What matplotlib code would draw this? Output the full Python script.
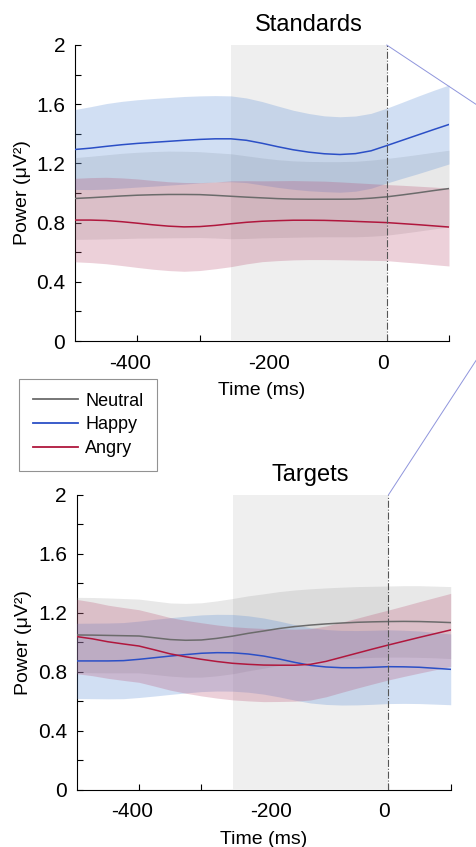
import numpy as np
import matplotlib
matplotlib.use("Agg")
import matplotlib.pyplot as plt
import matplotlib.transforms as mtransforms
from matplotlib.patches import ConnectionPatch

plt.rcParams['font.family'] = ['Liberation Sans', 'DejaVu Sans']
plt.rcParams['axes.unicode_minus'] = False

# time axis (ms), relative to stimulus onset
time_ms = [-500, -475, -450, -425, -400, -375, -350, -325, -300, -275, -250, -225, -200,
           -175, -150, -125, -100, -75, -50, -25, 0, 25, 50, 75, 100]

conditions = ['Neutral', 'Happy', 'Angry']

# Standards: mean power and its error band (uV^2)
neutral_std = [0.963, 0.968, 0.974, 0.980, 0.985, 0.988, 0.990, 0.990, 0.989, 0.984, 0.978, 0.972, 0.967,
               0.962, 0.959, 0.958, 0.958, 0.958, 0.959, 0.965, 0.974, 0.987, 1.001, 1.016, 1.030]
neutral_std_err = [0.276, 0.280, 0.284, 0.288, 0.290, 0.292, 0.293, 0.292, 0.290, 0.288, 0.287, 0.279, 0.270,
                   0.263, 0.258, 0.255, 0.254, 0.254, 0.255, 0.257, 0.259, 0.259, 0.259, 0.259, 0.259]
happy_std = [1.294, 1.303, 1.315, 1.326, 1.335, 1.342, 1.349, 1.356, 1.362, 1.366, 1.366, 1.356, 1.336,
             1.313, 1.292, 1.276, 1.265, 1.260, 1.266, 1.285, 1.320, 1.356, 1.392, 1.428, 1.463]
happy_std_err = [0.270, 0.280, 0.289, 0.293, 0.295, 0.296, 0.296, 0.296, 0.294, 0.292, 0.290, 0.286, 0.282,
                 0.275, 0.267, 0.261, 0.256, 0.255, 0.254, 0.253, 0.253, 0.257, 0.262, 0.265, 0.267]
angry_std = [0.817, 0.817, 0.814, 0.806, 0.796, 0.785, 0.776, 0.771, 0.773, 0.781, 0.792, 0.802, 0.809,
             0.813, 0.816, 0.816, 0.815, 0.812, 0.808, 0.804, 0.800, 0.793, 0.786, 0.778, 0.770]
angry_std_err = [0.282, 0.287, 0.292, 0.296, 0.299, 0.300, 0.300, 0.300, 0.297, 0.293, 0.290, 0.281, 0.273,
                 0.270, 0.268, 0.266, 0.265, 0.263, 0.261, 0.259, 0.257, 0.259, 0.260, 0.262, 0.263]

# Targets
neutral_tgt = [1.051, 1.050, 1.048, 1.046, 1.044, 1.032, 1.020, 1.015, 1.017, 1.028, 1.043, 1.062, 1.078,
               1.095, 1.108, 1.118, 1.126, 1.132, 1.137, 1.140, 1.142, 1.143, 1.142, 1.139, 1.135]
neutral_tgt_err = [0.255, 0.255, 0.254, 0.252, 0.250, 0.249, 0.248, 0.250, 0.252, 0.254, 0.255, 0.254, 0.252,
                   0.250, 0.248, 0.246, 0.244, 0.243, 0.242, 0.241, 0.241, 0.242, 0.243, 0.243, 0.244]
happy_tgt = [0.875, 0.875, 0.875, 0.877, 0.886, 0.897, 0.908, 0.918, 0.927, 0.931, 0.930, 0.922, 0.908,
             0.888, 0.865, 0.845, 0.834, 0.829, 0.829, 0.832, 0.836, 0.835, 0.832, 0.825, 0.818]
happy_tgt_err = [0.255, 0.256, 0.257, 0.258, 0.259, 0.260, 0.260, 0.260, 0.260, 0.260, 0.260, 0.259, 0.258,
                 0.257, 0.256, 0.255, 0.254, 0.253, 0.252, 0.251, 0.250, 0.248, 0.246, 0.243, 0.240]
angry_tgt = [1.040, 1.025, 1.005, 0.990, 0.976, 0.950, 0.923, 0.903, 0.886, 0.871, 0.859, 0.852, 0.847,
             0.846, 0.846, 0.852, 0.872, 0.900, 0.928, 0.956, 0.983, 1.009, 1.035, 1.060, 1.085]
angry_tgt_err = [0.252, 0.250, 0.248, 0.247, 0.246, 0.246, 0.246, 0.247, 0.248, 0.248, 0.248, 0.248, 0.248,
                 0.246, 0.244, 0.242, 0.240, 0.238, 0.237, 0.237, 0.237, 0.239, 0.242, 0.245, 0.248]

window = [-250, 0]          # shaded pre-stimulus window
yticks = [0, 0.4, 0.8, 1.2, 1.6, 2]
ytick_labels = ['0', '0.4', '0.8', '1.2', '1.6', '2']
xticks = [-400, -200, 0]
xlabel_shift_px = [-7, 7, -4]   # the original's x tick labels sit a bit off their ticks

line_colors = {'Neutral': '#6b6b6b', 'Happy': '#2b4fc6', 'Angry': '#b0173d'}
band_colors = {'Neutral': '#8c8c8c', 'Happy': '#5d8fd6', 'Angry': '#b5456a'}
band_alpha = {'Neutral': 0.2, 'Happy': 0.28, 'Angry': 0.25}


def draw_panel(ax, means, errs, title):
    ax.axvspan(window[0], window[1], color='#efefef', lw=0, zorder=0.7)
    for name, m, e in zip(conditions, means, errs):
        m = np.array(m)
        e = np.array(e)
        ax.fill_between(time_ms, m - e, m + e, color=band_colors[name],
                        alpha=band_alpha[name], lw=0, zorder=1)
    for name, m in zip(conditions, means):
        ax.plot(time_ms, m, color=line_colors[name], lw=1.1, label=name, zorder=2)
    ax.axvline(0, color='#555555', lw=0.8, ls='-.', zorder=2.2)

    ax.set_xlim(time_ms[0], time_ms[-1])
    ax.set_ylim(0, 2)
    ax.set_xticks(xticks)
    ax.set_xticks([-300, -100, 100], minor=True)
    ax.set_yticks(yticks)
    ax.set_yticklabels(ytick_labels)
    ax.set_yticks([0.2, 0.6, 1.0, 1.4, 1.8], minor=True)
    ax.tick_params(which='both', direction='in', length=4, width=0.8, labelsize=15)
    ax.tick_params(axis='x', which='both', pad=9)
    ax.tick_params(axis='y', which='both', pad=7)
    for lab, dx in zip(ax.get_xticklabels(), xlabel_shift_px):
        lab.set_transform(lab.get_transform() + mtransforms.ScaledTranslation(dx / 100, 0, fig.dpi_scale_trans))
    for side in ['top', 'right']:
        ax.spines[side].set_visible(False)
    for side in ['left', 'bottom']:
        ax.spines[side].set_linewidth(0.8)
        ax.spines[side].set_zorder(0.5)
    ax.set_axisbelow(True)
    ax.set_xlabel('Time (ms)', fontsize=14, labelpad=7)
    ax.set_ylabel('Power (μV²)', fontsize=14, labelpad=4)

    trans = mtransforms.blended_transform_factory(ax.transData, ax.transAxes)
    ax.text(np.mean(window), 1.068, title, transform=trans, ha='center', va='center', fontsize=17)


fig = plt.figure(figsize=(4.77, 8.47), dpi=100)
ax1 = fig.add_axes([0.1572, 0.5974, 0.7841, 0.3495])
ax2 = fig.add_axes([0.1608, 0.0673, 0.7841, 0.3483])

draw_panel(ax1, [neutral_std, happy_std, angry_std],
           [neutral_std_err, happy_std_err, angry_std_err], 'Standards')
draw_panel(ax2, [neutral_tgt, happy_tgt, angry_tgt],
           [neutral_tgt_err, happy_tgt_err, angry_tgt_err], 'Targets')

handles, labels = ax1.get_legend_handles_labels()
leg = fig.legend(handles, labels, loc='upper left', bbox_to_anchor=(19 / 477, 1 - 379 / 847),
                 borderaxespad=0, fontsize=13, frameon=True, fancybox=False, handlelength=2.5,
                 labelspacing=0.38, borderpad=0.75, handletextpad=0.42)
leg.get_frame().set_edgecolor('#777777')
leg.get_frame().set_linewidth(0.8)
for line in leg.get_lines():
    line.set_linewidth(1.3)

# zoom connector lines toward the (cropped) neighbouring panel
for ax, yend in [(ax1, 1 - 105 / 847), (ax2, 1 - 359 / 847)]:
    con = ConnectionPatch(xyA=(0, 2), coordsA=ax.transData, xyB=(1.0, yend),
                          coordsB=fig.transFigure, color='#8f95dc', lw=0.7)
    fig.add_artist(con)

fig.savefig('out.png', dpi=100)
